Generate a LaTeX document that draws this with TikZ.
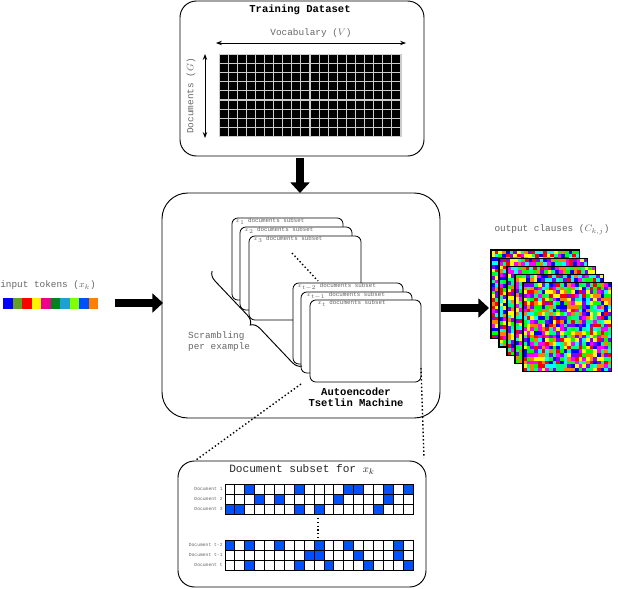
\documentclass[tikz,border=0pt]{standalone}
\usepackage{fontspec}
\setmonofont{Liberation Mono}
\usetikzlibrary{arrows.meta,decorations.pathreplacing}
\definecolor{tokblue}{HTML}{0050FF}
\definecolor{clr1}{HTML}{FF0000}
\definecolor{clr2}{HTML}{00FF00}
\definecolor{clr3}{HTML}{0000FF}
\definecolor{clr4}{HTML}{FFFF00}
\definecolor{clr5}{HTML}{FF00FF}
\definecolor{clr6}{HTML}{00FFFF}
\definecolor{clr7}{HTML}{FF8000}
\definecolor{clr8}{HTML}{8000FF}
\definecolor{clr9}{HTML}{00FF80}
\tikzset{%
    panel/.style={%
        draw, line width=0.8pt, rounded corners=14
    },
    card/.style={%
        draw, fill=white, line width=0.7pt, rounded corners=5
    },
    cardtxt/.style={%
        anchor=north west, text=gray!80!black, font=\ttfamily\fontsize{5}{6}\selectfont, inner sep=1pt
    },
    title/.style={%
        font=\ttfamily\bfseries\fontsize{9}{10}\selectfont, align=center
    },
    txt/.style={%
        text=gray!80!black, font=\ttfamily\fontsize{8}{9.5}\selectfont, align=left
    },
    doclbl/.style={%
        anchor=east, text=gray!80!black, font=\ttfamily\fontsize{4}{4.5}\selectfont, inner sep=1pt
    },
    cell/.style={%
        draw, line width=0.7pt
    },
    flow/.style={%
        -{Triangle[length=9pt,width=16pt]}, line width=6pt
    },
    dim/.style={%
        {Stealth[length=5pt]}-{Stealth[length=5pt]}, line width=0.8pt
    },
    dots/.style={%
        dotted, line width=1.2pt
    },
}
\begin{document}
\begin{tikzpicture}[x=0.03cm,y=-0.03cm]
  \useasboundingbox (0,0) rectangle (618,588);

  % training dataset
  \draw[panel] (180,1) rectangle (424,156);
  \node[title] (train) at (300,10) {Training Dataset};
  \node[txt] (vocab) at (311,33) {Vocabulary ($V$)};
  \coordinate (vl) at (216,43); \coordinate (vr) at (406,43);
  \draw[dim] (vl) -- (vr);
  \node[txt, rotate=90] (docs) at (191,96) {Documents ($G$)};
  \coordinate (dt) at (205,54); \coordinate (db) at (205,138);
  \draw[dim] (dt) -- (db);
  \fill[gray!40] (218.5,53.5) rectangle (402,137);
  \foreach \i in {0,...,19}
    \foreach \j in {0,...,8}
      \fill[black] (219.5+\i*9.1,54.5+\j*9.2) rectangle ++(8,8);

  \coordinate (t1) at (300,158); \coordinate (t2) at (300,193);
  \draw[flow] (t1) -- (t2);

  % autoencoder
  \draw[panel, rounded corners=22] (162,193) rectangle (440,418);
  \node[title] (ae) at (356,397) {Autoencoder\\[-1pt]Tsetlin Machine};

  \draw[card] (232,218) rectangle (343,300);
  \node[cardtxt] (c1) at (234,217) {$x_1$ documents subset};
  \draw[card] (240,227) rectangle (352,310);
  \node[cardtxt] (c2) at (243,226) {$x_2$ documents subset};
  \draw[card] (249,236) rectangle (361,320);
  \node[cardtxt] (c3) at (252,235) {$x_3$ documents subset};
  \coordinate (d1) at (292,253); \coordinate (d2) at (318,281);
  \draw[dots] (d1) -- (d2);
  \draw[card] (293,283) rectangle (403,364);
  \node[cardtxt] (c4) at (296,282) {$x_{t-2}$ documents subset};
  \draw[card] (301,292) rectangle (412,373);
  \node[cardtxt] (c5) at (305,291) {$x_{t-1}$ documents subset};
  \draw[card] (310,300) rectangle (421,382);
  \node[cardtxt] (c6) at (316,299) {$x_t$ documents subset};

  \coordinate (b1) at (212,271); \coordinate (b2) at (302,366);
  \draw[decorate, decoration={brace, amplitude=8pt}, line width=0.8pt] (b2) -- (b1);
  \node[txt, anchor=west] (scr) at (184,342) {Scrambling\\per example};

  % input / output
  \node[txt] (inp) at (48,285) {input tokens ($x_k$)};
  \foreach \c [count=\n from 0] in {blue,{rgb,255:red,100;green,160;blue,40},red,yellow,magenta,{rgb,255:red,0;green,128;blue,30},{rgb,255:red,30;green,160;blue,210},{rgb,255:red,130;green,255;blue,0},tokblue,orange}
    \fill[color=\c] (3+\n*9.5,298) rectangle ++(9.5,11);
  \coordinate (i1) at (115,303); \coordinate (i2) at (163,303);
  \draw[flow] (i1) -- (i2);
  \coordinate (o1) at (441,308); \coordinate (o2) at (489,308);
  \draw[flow] (o1) -- (o2);

  \node[txt] (outp) at (552,230) {output clauses ($C_{k,j}$)};
  \pgfmathsetseed{11}
  \foreach \k in {0,...,4} {
    \foreach \i in {0,...,23}
      \foreach \j in {0,...,23} {
        \pgfmathrandominteger{\r}{1}{9}
        \fill[clr\r] (491+\k*8+\i*3.7,250+\k*8.2+\j*3.7) rectangle ++(3.8,3.8);
      }
    \draw[line width=1pt] (491+\k*8,250+\k*8.2) rectangle ++(88.8,88.8);
  }

  % zoomed subset
  \coordinate (z1) at (301,384); \coordinate (z2) at (196,460);
  \draw[dots] (z1) -- (z2);
  \coordinate (z3) at (421,368); \coordinate (z4) at (424,458);
  \draw[dots] (z3) -- (z4);
  \draw[panel] (178,461) rectangle (426,587);
  \node[font=\ttfamily\fontsize{9.5}{10}\selectfont, text=gray!30!black] (sub) at (302,469) {Document subset for $x_k$};

  \foreach \row/\y/\lbl/\blues in {0/484/Document 1/{2,7,12,13,16,18},
                                   1/494/Document 2/{3,5,11,16},
                                   2/504/Document 3/{0,1,7,9,15},
                                   3/540/Document t-2/{0,2,5,9,12,17},
                                   4/550/Document t-1/{8,9,13,17},
                                   5/560/Document t/{2,7,10,14,18}} {
    \node[doclbl] (lbl\row) at (224,\y+5) {\lbl};
    \foreach \b in \blues
      \fill[tokblue] (225+\b*9.9,\y) rectangle ++(9.9,10);
    \foreach \col in {0,...,18}
      \draw[cell] (225+\col*9.9,\y) rectangle ++(9.9,10);
  }
  \coordinate (e1) at (318,518); \coordinate (e2) at (318,537);
  \draw[dots] (e1) -- (e2);
\end{tikzpicture}
\end{document}
